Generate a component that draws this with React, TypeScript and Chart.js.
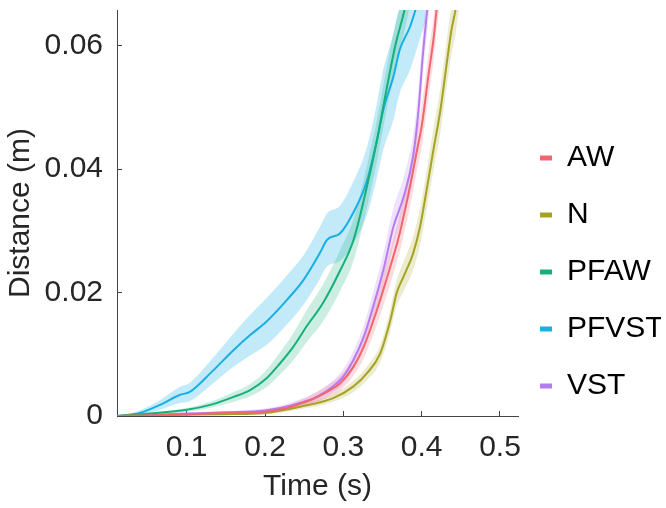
import { useEffect, useRef } from 'react';
import { Chart, registerables } from 'chart.js';

Chart.register(...registerables);

// ---- data ----
const seriesNames = ['AW', 'N', 'PFAW', 'PFVST', 'VST'];
const lineColors = ['#F2646F', '#A6A222', '#16B07A', '#18AEE6', '#B57CF1'];
const bandColors = [
  'rgba(242,100,111,0.22)',
  'rgba(166,162,34,0.22)',
  'rgba(22,176,122,0.22)',
  'rgba(24,174,230,0.26)',
  'rgba(181,124,241,0.22)',
];

const awTime = [0.011, 0.05, 0.1, 0.15, 0.2, 0.225, 0.245, 0.262, 0.279, 0.296, 0.313, 0.326, 0.343, 0.36, 0.372, 0.385, 0.394, 0.4, 0.409, 0.415, 0.419, 0.426];
const awMean = [0, 0.0001, 0.0003, 0.0005, 0.0007, 0.0012, 0.002, 0.0028, 0.0039, 0.0053, 0.008, 0.0112, 0.0172, 0.0242, 0.0296, 0.0371, 0.043, 0.0469, 0.0555, 0.0609, 0.0657, 0.073];
const awErr = [0, 0, 0.0001, 0.0002, 0.0003, 0.0004, 0.0006, 0.0008, 0.001, 0.0012, 0.0015, 0.0019, 0.0024, 0.0028, 0.003, 0.0032, 0.0033, 0.0034, 0.0035, 0.0035, 0.0035, 0.0035];

const nTime = [0.011, 0.05, 0.1, 0.15, 0.2, 0.245, 0.287, 0.313, 0.33, 0.347, 0.36, 0.368, 0.377, 0.389, 0.398, 0.407, 0.415, 0.424, 0.432, 0.438, 0.443, 0.45];
const nMean = [0, 0.0001, 0.0002, 0.0003, 0.0005, 0.0015, 0.0029, 0.0048, 0.0069, 0.0101, 0.0155, 0.0199, 0.0226, 0.0263, 0.0307, 0.0371, 0.0431, 0.0496, 0.0571, 0.0625, 0.0657, 0.072];
const nErr = [0, 0, 0.0001, 0.0001, 0.0002, 0.0004, 0.0006, 0.0009, 0.0011, 0.0014, 0.0018, 0.0021, 0.0024, 0.0027, 0.003, 0.0032, 0.0034, 0.0036, 0.0038, 0.004, 0.004, 0.004];

const pfawTime = [0.011, 0.053, 0.1, 0.13, 0.16, 0.181, 0.202, 0.219, 0.236, 0.253, 0.274, 0.296, 0.313, 0.33, 0.343, 0.355, 0.366, 0.378, 0.39];
const pfawMean = [0, 0.0004, 0.001, 0.0018, 0.0031, 0.0042, 0.0061, 0.0085, 0.0112, 0.0145, 0.0183, 0.0236, 0.0285, 0.0371, 0.0447, 0.0528, 0.0598, 0.0657, 0.073];
const pfawErr = [0, 0.0001, 0.0003, 0.0005, 0.0008, 0.001, 0.0014, 0.0018, 0.0022, 0.0026, 0.003, 0.0033, 0.0034, 0.0034, 0.0034, 0.0034, 0.0034, 0.0034, 0.0034];

const pfvstTime = [0.011, 0.04, 0.066, 0.091, 0.104, 0.13, 0.16, 0.181, 0.202, 0.228, 0.249, 0.27, 0.279, 0.296, 0.313, 0.33, 0.343, 0.351, 0.364, 0.372, 0.385, 0.392, 0.405];
const pfvstMean = [0, 0.0005, 0.0018, 0.0034, 0.0039, 0.0069, 0.0107, 0.0131, 0.0153, 0.0188, 0.022, 0.0264, 0.0285, 0.0296, 0.033, 0.038, 0.0447, 0.0496, 0.055, 0.0593, 0.063, 0.0657, 0.071];
const pfvstErr = [0, 0.0004, 0.0008, 0.0013, 0.0015, 0.002, 0.0027, 0.0033, 0.0038, 0.004, 0.004, 0.0042, 0.0043, 0.0045, 0.005, 0.0055, 0.006, 0.0065, 0.007, 0.007, 0.007, 0.007, 0.007];

const vstTime = [0.011, 0.05, 0.1, 0.15, 0.2, 0.236, 0.266, 0.287, 0.3, 0.313, 0.326, 0.338, 0.351, 0.364, 0.377, 0.389, 0.396, 0.401, 0.407, 0.414];
const vstMean = [0, 0.0002, 0.0004, 0.0006, 0.0009, 0.0018, 0.0031, 0.0048, 0.0064, 0.0091, 0.0128, 0.0177, 0.0236, 0.0307, 0.0355, 0.042, 0.0496, 0.0577, 0.0657, 0.074];
const vstErr = [0, 0, 0.0001, 0.0002, 0.0003, 0.0005, 0.0008, 0.001, 0.0012, 0.0015, 0.0019, 0.0023, 0.0027, 0.003, 0.0032, 0.0034, 0.0035, 0.0035, 0.0035, 0.0035];

const xTicks = [0.1, 0.2, 0.3, 0.4, 0.5];
const yTicks = [0, 0.02, 0.04, 0.06];
const xRange = [0.011, 0.523];
const yRange = [0, 0.06575];

const FONT = 'Liberation Sans, Arial, Helvetica, sans-serif';
const TEXT = '#262626';

const seriesData = [
  { time: awTime, mean: awMean, err: awErr },
  { time: nTime, mean: nMean, err: nErr },
  { time: pfawTime, mean: pfawMean, err: pfawErr },
  { time: pfvstTime, mean: pfvstMean, err: pfvstErr },
  { time: vstTime, mean: vstMean, err: vstErr },
];

const legendShift = {
  id: 'legendShift',
  afterLayout(chart: any) {
    const lg = chart.legend;
    if (!lg) return;
    const dx = chart.chartArea.right - 5 - lg.left;
    lg.left += dx;
    lg.right += dx;
    const dy = chart.chartArea.top + 106 - lg.top;
    lg.top += dy;
    lg.bottom += dy;
  },
};

export default function App() {
  const ref = useRef<HTMLCanvasElement | null>(null);

  useEffect(() => {
    if (!ref.current) return;

    const bands: any[] = [];
    seriesData.forEach((s, i) => {
      bands.push({
        label: seriesNames[i] + ' upper',
        data: s.time.map((t, k) => ({ x: t, y: s.mean[k] + s.err[k] })),
        borderWidth: 0,
        pointRadius: 0,
        fill: '+1',
        backgroundColor: bandColors[i],
        borderColor: 'rgba(0,0,0,0)',
        cubicInterpolationMode: 'monotone',
        order: 2,
      });
      bands.push({
        label: seriesNames[i] + ' lower',
        data: s.time.map((t, k) => ({ x: t, y: Math.max(0, s.mean[k] - s.err[k]) })),
        borderWidth: 0,
        pointRadius: 0,
        fill: false,
        backgroundColor: bandColors[i],
        borderColor: 'rgba(0,0,0,0)',
        cubicInterpolationMode: 'monotone',
        order: 2,
      });
    });

    const lines = seriesData.map((s, i) => ({
      label: seriesNames[i],
      data: s.time.map((t, k) => ({ x: t, y: s.mean[k] })),
      borderColor: lineColors[i],
      backgroundColor: lineColors[i],
      borderWidth: 2,
      pointRadius: 0,
      fill: false,
      cubicInterpolationMode: 'monotone',
      order: 1,
    }));

    const chart = new Chart(ref.current, {
      type: 'line',
      data: { datasets: [...bands, ...lines] },
      plugins: [legendShift],
      options: {
        animation: false,
        responsive: false,
        devicePixelRatio: 1,
        layout: { padding: { top: 10, right: 0, bottom: 0, left: 0 } },
        plugins: {
          filler: { drawTime: 'beforeDatasetsDraw' },
          tooltip: { enabled: false },
          legend: {
            position: 'right',
            align: 'start',
            maxWidth: 148,
            labels: {
              font: { family: FONT, size: 30 },
              color: TEXT,
              boxWidth: 12,
              boxHeight: 5,
              padding: 27,
              generateLabels: () =>
                seriesNames.map((n, i) => ({
                  text: n,
                  fillStyle: lineColors[i],
                  strokeStyle: lineColors[i],
                  lineWidth: 0,
                  hidden: false,
                  datasetIndex: 10 + i,
                })),
            },
          },
        },
        scales: {
          x: {
            type: 'linear',
            min: xRange[0],
            max: xRange[1],
            afterBuildTicks: (s: any) => {
              s.ticks = xTicks.map((v) => ({ value: v }));
            },
            afterFit: (s: any) => {
              s.height = 92;
              s.paddingLeft = 0;
              s.paddingRight = 0;
            },
            ticks: {
              callback: (v: any) => Number(v).toFixed(1),
              font: { family: FONT, size: 30 },
              color: TEXT,
              padding: 19,
              maxRotation: 0,
              autoSkip: false,
            },
            grid: { drawOnChartArea: false, drawTicks: true, tickLength: -5, color: '#444444' },
            border: { color: '#444444', width: 1 },
            title: {
              display: true,
              text: 'Time (s)',
              font: { family: FONT, size: 30 },
              color: TEXT,
              padding: { top: 0, bottom: 3 },
            },
          },
          y: {
            type: 'linear',
            min: yRange[0],
            max: yRange[1],
            afterBuildTicks: (s: any) => {
              s.ticks = yTicks.map((v) => ({ value: v }));
            },
            afterFit: (s: any) => {
              s.width = 117;
              s.paddingTop = 0;
              s.paddingBottom = 0;
            },
            ticks: {
              callback: (v: any) => (Number(v) === 0 ? '0' : Number(v).toFixed(2)),
              font: { family: FONT, size: 30 },
              color: TEXT,
              padding: 19,
              autoSkip: false,
            },
            grid: { drawOnChartArea: false, drawTicks: true, tickLength: -5, color: '#444444' },
            border: { color: '#444444', width: 1 },
            title: {
              display: true,
              text: 'Distance (m)',
              font: { family: FONT, size: 30 },
              color: TEXT,
              padding: { top: 3, bottom: 0 },
            },
          },
        },
      },
    } as any);

    return () => chart.destroy();
  }, []);

  return (
    <div style={{ position: 'absolute', left: 0, top: 0, width: 666, height: 508 }}>
      <canvas ref={ref} width={666} height={508} />
    </div>
  );
}
